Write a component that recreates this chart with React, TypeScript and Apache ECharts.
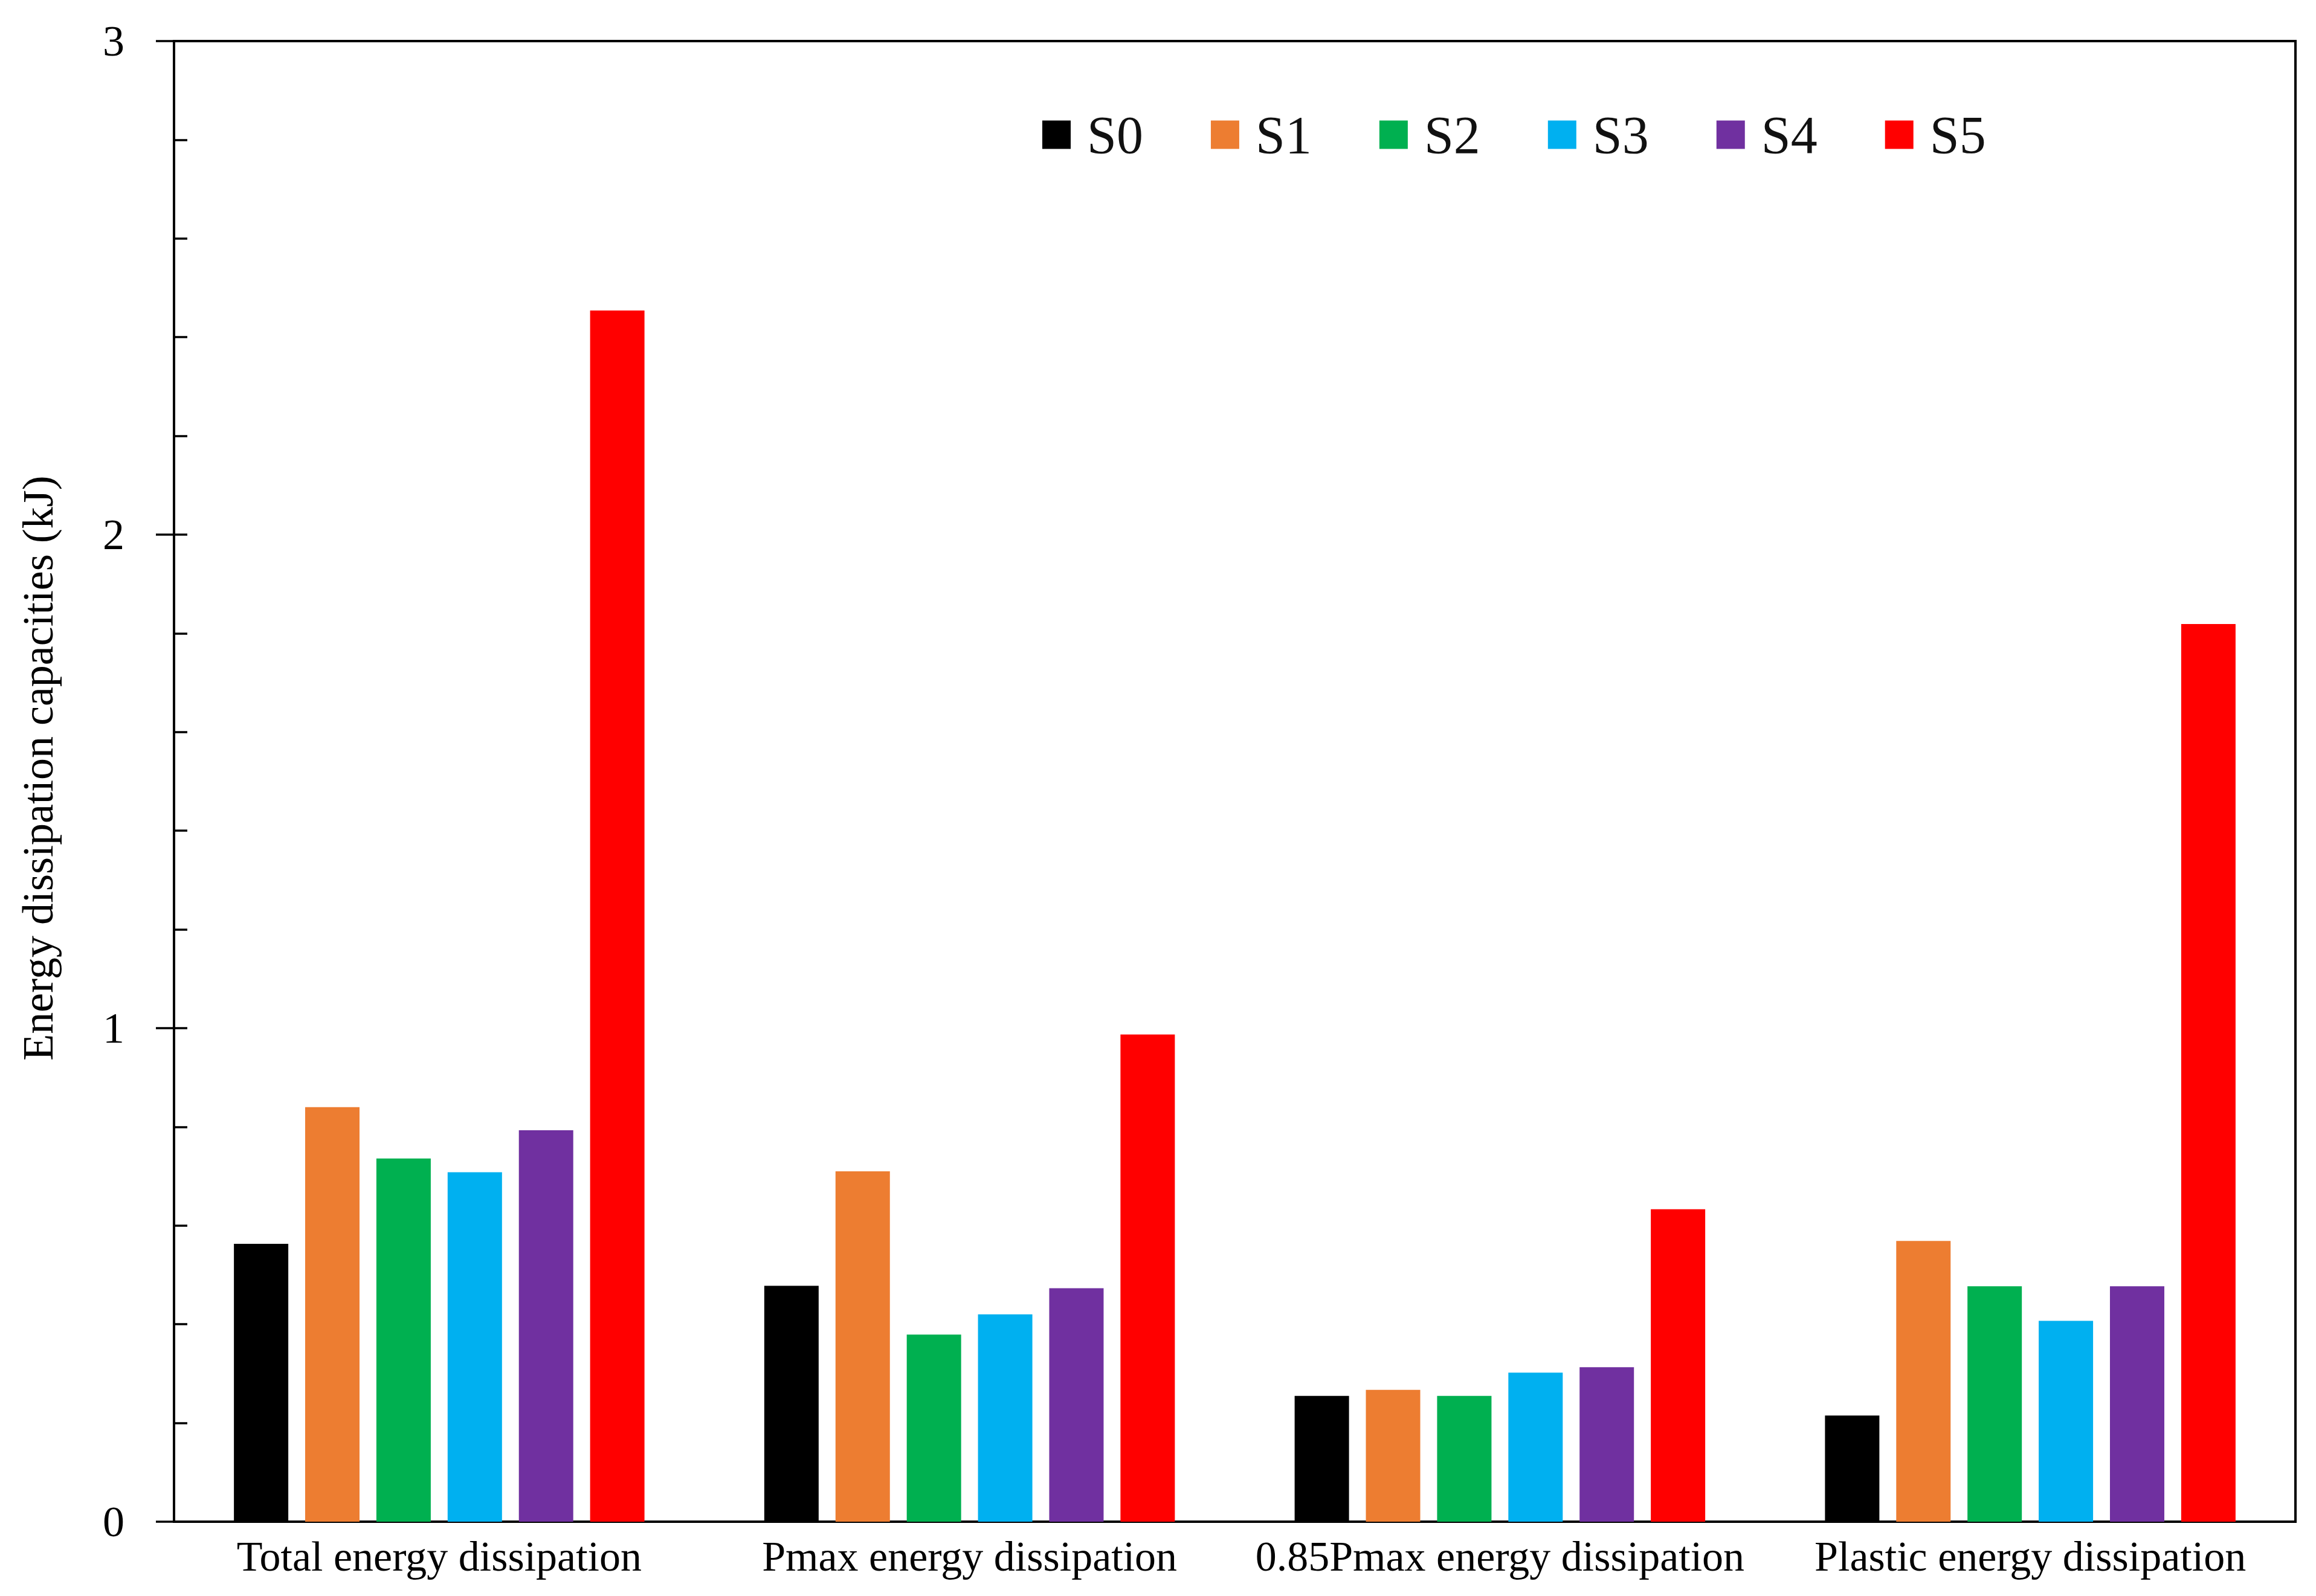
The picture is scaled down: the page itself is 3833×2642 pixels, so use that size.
import React, { useEffect, useRef } from "react";
import * as echarts from "echarts";

const categories = [
  "Total energy dissipation",
  "Pmax energy dissipation",
  "0.85Pmax energy dissipation",
  "Plastic energy dissipation",
];
const seriesNames = ["S0", "S1", "S2", "S3", "S4", "S5"];
const S0 = [0.563, 0.478, 0.255, 0.215];
const S1 = [0.840, 0.710, 0.267, 0.569];
const S2 = [0.736, 0.379, 0.255, 0.477];
const S3 = [0.708, 0.420, 0.302, 0.407];
const S4 = [0.793, 0.473, 0.313, 0.477];
const S5 = [2.454, 0.987, 0.633, 1.819];
const seriesValues = [S0, S1, S2, S3, S4, S5];
const colors = ["#000000", "#ED7D31", "#00B050", "#00B0F0", "#7030A0", "#FF0000"];
const yTicks = { min: 0, max: 3, interval: 1 };

const FONT = "'Liberation Serif', 'Times New Roman', serif";

export default function App() {
  const ref = useRef<HTMLDivElement>(null);
  useEffect(() => {
    document.body.style.margin = "0";
    const chart = echarts.init(ref.current!, null, { renderer: "svg" });
    chart.setOption({
      animation: false,
      backgroundColor: "#ffffff",
      color: colors,
      grid: {
        left: 288,
        right: 34,
        top: 68,
        bottom: 123,
        show: true,
        borderColor: "#000",
        borderWidth: 4,
        containLabel: false,
      },
      legend: {
        data: seriesNames,
        left: 1720,
        top: 174,
        icon: "rect",
        itemWidth: 47,
        itemHeight: 47,
        itemGap: 112,
        textStyle: { fontFamily: FONT, fontSize: 88, color: "#111", padding: [0, 0, 0, 22] },
      },
      xAxis: {
        type: "category",
        data: categories,
        axisLine: { show: true, lineStyle: { color: "#000", width: 4 } },
        axisTick: { show: false },
        axisLabel: {
          interval: 0,
          margin: 22,
          fontFamily: FONT,
          fontSize: 70,
          color: "#000",
        },
        splitLine: { show: false },
      },
      yAxis: [
        {
          type: "value",
          min: yTicks.min,
          max: yTicks.max,
          interval: yTicks.interval,
          name: "Energy dissipation capacities (kJ)",
          nameLocation: "middle",
          nameGap: 189,
          nameTextStyle: {
            fontFamily: FONT,
            fontSize: 72,
            color: "#000",
            padding: [0, 0, 0, 44],
          },
          axisLine: { show: true, lineStyle: { color: "#000", width: 4 } },
          axisTick: { show: true, inside: true, length: 22, lineStyle: { color: "#000", width: 3.5 } },
          minorTick: { show: true, splitNumber: 5, length: 22, lineStyle: { color: "#000", width: 3.5 } },
          axisLabel: { margin: 82, fontFamily: FONT, fontSize: 72, color: "#000" },
          splitLine: { show: false },
          minorSplitLine: { show: false },
        },
        {
          type: "value",
          position: "left",
          min: yTicks.min,
          max: yTicks.max,
          interval: yTicks.interval,
          axisLine: { show: false },
          axisTick: { show: true, inside: false, length: 30, lineStyle: { color: "#000", width: 3.5 } },
          axisLabel: { show: false },
          splitLine: { show: false },
        },
      ],
      series: seriesNames.map((name, i) => ({
        name,
        type: "bar",
        yAxisIndex: 0,
        data: seriesValues[i],
        barWidth: 90,
        barGap: "31%",
        itemStyle: { color: colors[i] },
      })),
    });
    return () => chart.dispose();
  }, []);
  return <div ref={ref} style={{ width: 3833, height: 2642 }} />;
}
